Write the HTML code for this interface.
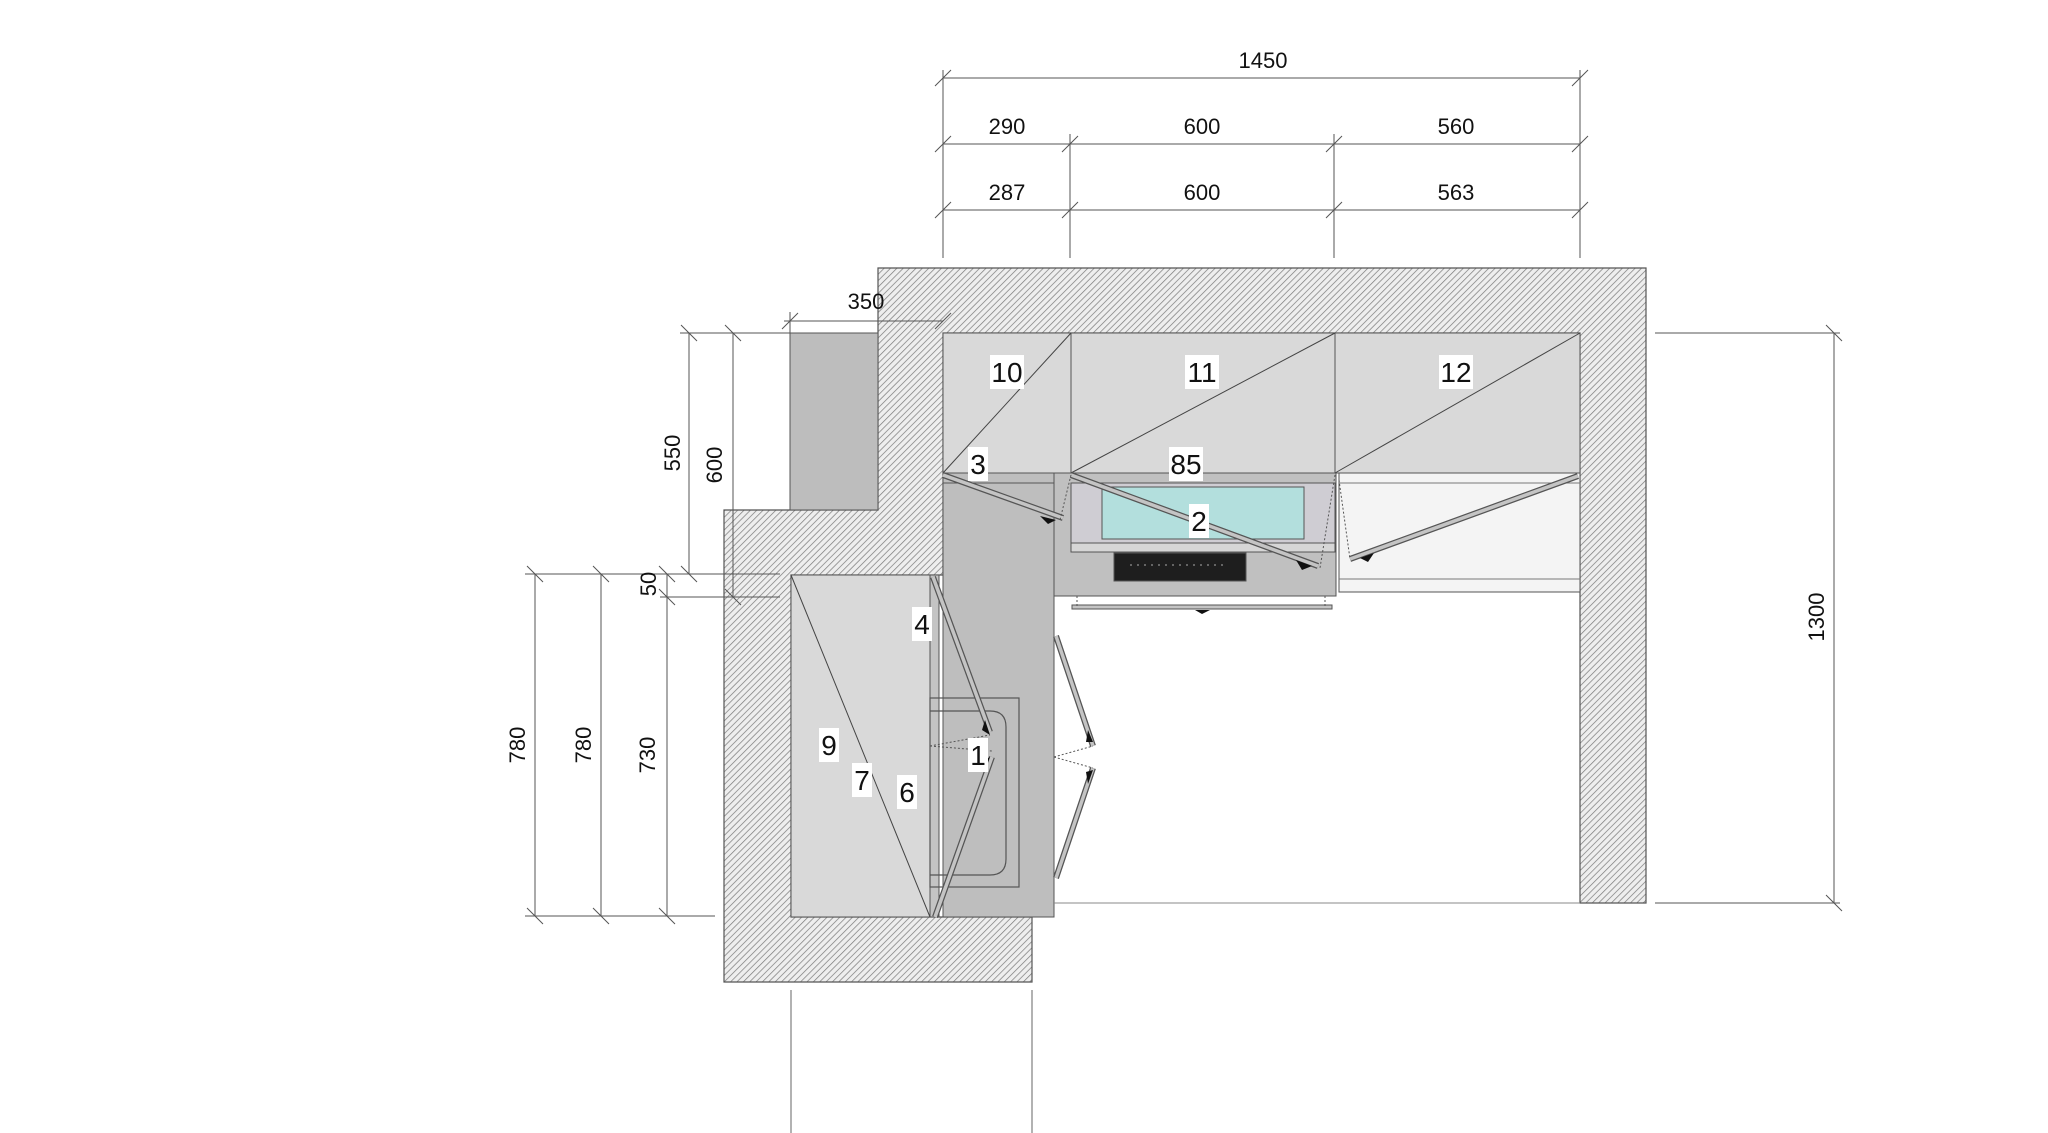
<!DOCTYPE html>
<html><head><meta charset="utf-8"><style>
html,body{margin:0;padding:0;background:#fff;}
svg{display:block;}
text{font-family:"Liberation Sans",sans-serif;font-size:22px;fill:#111;}
.lbl{font-size:28px;}
</style></head><body>
<svg width="2048" height="1133" viewBox="0 0 2048 1133" xmlns="http://www.w3.org/2000/svg">
<defs>
<pattern id="h" width="4.5" height="4.5" patternUnits="userSpaceOnUse" patternTransform="rotate(45)">
<rect width="4.5" height="4.5" fill="#eeeeee"/>
<line x1="0" y1="0" x2="0" y2="4.5" stroke="#7a7a7a" stroke-width="1.4"/>
</pattern>
</defs>

<polygon points="878,268 1646,268 1646,903 1580,903 1580,333 943,333 943,575 791,575 791,917 1032,917 1032,982 724,982 724,510 878,510" fill="url(#h)" stroke="#555" stroke-width="1.2"/>
<rect x="790" y="333" width="88" height="177" fill="#bdbdbd" stroke="#555" stroke-width="1"/>

<rect x="943" y="333" width="637" height="140" fill="#d9d9d9" stroke="#555" stroke-width="1"/>
<line x1="1071" y1="333" x2="1071" y2="473" stroke="#555"/>
<line x1="1335" y1="333" x2="1335" y2="473" stroke="#555"/>
<g stroke="#444" stroke-width="1">
<line x1="943" y1="473" x2="1071" y2="333"/>
<line x1="1071" y1="473" x2="1335" y2="333"/>
<line x1="1335" y1="473" x2="1580" y2="333"/>
</g>

<rect x="943" y="473" width="111" height="444" fill="#bebebe" stroke="#555" stroke-width="1"/>
<rect x="943" y="473" width="111" height="10" fill="#bebebe" stroke="#555" stroke-width="1"/>
<rect x="791" y="575" width="139" height="342" fill="#d9d9d9" stroke="#555" stroke-width="1"/>
<rect x="930" y="575" width="9" height="342" fill="#c4c4c4" stroke="#555" stroke-width="1"/>
<line x1="791" y1="575" x2="930" y2="917" stroke="#444"/>
<rect x="930" y="698" width="89" height="189" fill="none" stroke="#555" stroke-width="1.2"/>
<path d="M930,711 L990,711 Q1006,711 1006,727 L1006,859 Q1006,875 990,875 L930,875" fill="none" stroke="#555" stroke-width="1.2"/>

<rect x="1054" y="473" width="282" height="123" fill="#c0c0c0" stroke="#555" stroke-width="1"/>
<rect x="1071" y="483" width="264" height="60" fill="#cfcdd3" stroke="#555" stroke-width="1"/>
<rect x="1071" y="543" width="264" height="9" fill="#d6d6d6" stroke="#555" stroke-width="1"/>
<rect x="1102" y="487" width="202" height="52" fill="#b3dfdd" stroke="#555" stroke-width="1"/>
<rect x="1114" y="553" width="132" height="28" fill="#1e1e1e" stroke="#555" stroke-width="1"/>
<line x1="1130" y1="565" x2="1226" y2="565" stroke="#aaa" stroke-width="1" stroke-dasharray="2,5"/>
<rect x="1072" y="605" width="260" height="4" fill="#c4c4c4" stroke="#555" stroke-width="1"/>
<polygon points="1195,610 1210,610 1202,614" fill="#111"/>

<rect x="1339" y="473" width="241" height="119" fill="#f4f4f4" stroke="#555" stroke-width="1"/>
<line x1="1339" y1="483" x2="1580" y2="483" stroke="#777"/>
<line x1="1339" y1="579" x2="1580" y2="579" stroke="#777"/>

<g stroke="#555" stroke-width="6">
<line x1="943" y1="475" x2="1063" y2="518"/>
<line x1="1071" y1="475" x2="1318" y2="566"/>
<line x1="1578" y1="476" x2="1350" y2="559"/>
<line x1="933" y1="577" x2="990" y2="732"/>
<line x1="935" y1="917" x2="992" y2="757"/>
<line x1="1056" y1="636" x2="1093" y2="746"/>
<line x1="1056" y1="878" x2="1093" y2="768"/>
</g>
<g stroke="#c4c4c4" stroke-width="3.5">
<line x1="943" y1="475" x2="1063" y2="518"/>
<line x1="1071" y1="475" x2="1318" y2="566"/>
<line x1="1578" y1="476" x2="1350" y2="559"/>
<line x1="933" y1="577" x2="990" y2="732"/>
<line x1="935" y1="917" x2="992" y2="757"/>
<line x1="1056" y1="636" x2="1093" y2="746"/>
<line x1="1056" y1="878" x2="1093" y2="768"/>
</g>
<g fill="#111">
<polygon points="1040,516 1056,520 1048,524"/>
<polygon points="1296,560 1312,566 1302,570"/>
<polygon points="1360,558 1374,553 1368,562"/>
<polygon points="985,720 990,735 982,730"/>
<polygon points="985,770 990,757 982,762"/>
<polygon points="1088,730 1093,742 1086,742"/>
<polygon points="1088,784 1093,770 1086,772"/>
</g>
<g stroke="#555" stroke-width="1" stroke-dasharray="2,2" fill="none">
<polyline points="930,746 990,735"/><polyline points="930,746 992,751"/>
<polyline points="1054,757 1093,746"/><polyline points="1054,757 1093,768"/>
<polyline points="1071,475 1060,520"/><polyline points="1335,475 1320,568"/>
<polyline points="1339,480 1350,559"/>
<polyline points="1077,596 1077,606"/><polyline points="1325,596 1325,606"/>
</g>

<line x1="1054" y1="903" x2="1580" y2="903" stroke="#888" stroke-width="1"/>
<line x1="791" y1="990" x2="791" y2="1133" stroke="#666"/>
<line x1="1032" y1="990" x2="1032" y2="1133" stroke="#666"/>

<g stroke="#555" stroke-width="1" fill="none">
<line x1="943" y1="78" x2="1580" y2="78"/>
<line x1="943" y1="144" x2="1580" y2="144"/>
<line x1="943" y1="210" x2="1580" y2="210"/>
<line x1="943" y1="70" x2="943" y2="258"/>
<line x1="1070" y1="134" x2="1070" y2="258"/>
<line x1="1334" y1="134" x2="1334" y2="258"/>
<line x1="1580" y1="70" x2="1580" y2="258"/>
<path d="M935,86l16,-16M1572,86l16,-16M935,152l16,-16M1062,152l16,-16M1326,152l16,-16M1572,152l16,-16M935,218l16,-16M1062,218l16,-16M1326,218l16,-16M1572,218l16,-16"/>
<line x1="784" y1="321" x2="943" y2="321"/>
<line x1="790" y1="312" x2="790" y2="333"/>
<path d="M782,329l16,-16M935,329l16,-16"/>
<line x1="535" y1="574" x2="535" y2="916"/>
<line x1="601" y1="574" x2="601" y2="916"/>
<line x1="667" y1="574" x2="667" y2="916"/>
<line x1="689" y1="333" x2="689" y2="574"/>
<line x1="733" y1="333" x2="733" y2="597"/>
<line x1="680" y1="333" x2="790" y2="333"/>
<line x1="525" y1="574" x2="780" y2="574"/>
<line x1="660" y1="597" x2="780" y2="597"/>
<line x1="525" y1="916" x2="715" y2="916"/>
<path d="M527,566l16,16M593,566l16,16M659,566l16,16M681,566l16,16M681,325l16,16M725,325l16,16M659,589l16,16M725,589l16,16M527,908l16,16M593,908l16,16M659,908l16,16"/>
<line x1="1834" y1="333" x2="1834" y2="903"/>
<line x1="1655" y1="333" x2="1840" y2="333"/>
<line x1="1655" y1="903" x2="1840" y2="903"/>
<path d="M1826,325l16,16M1826,895l16,16"/>
</g>
<g text-anchor="middle">
<text x="1263" y="68">1450</text>
<text x="1007" y="134">290</text>
<text x="1202" y="134">600</text>
<text x="1456" y="134">560</text>
<text x="1007" y="200">287</text>
<text x="1202" y="200">600</text>
<text x="1456" y="200">563</text>
<text x="866" y="309">350</text>
<text transform="translate(680,453) rotate(-90)">550</text>
<text transform="translate(722,465) rotate(-90)">600</text>
<text transform="translate(656,584) rotate(-90)">50</text>
<text transform="translate(525,745) rotate(-90)">780</text>
<text transform="translate(591,745) rotate(-90)">780</text>
<text transform="translate(655,755) rotate(-90)">730</text>
<text transform="translate(1824,617) rotate(-90)">1300</text>
</g>
<g text-anchor="middle" class="lbl">
<rect x="990" y="355" width="34" height="34" fill="#fff"/><text class="lbl" x="1007" y="382">10</text>
<rect x="1185" y="355" width="34" height="34" fill="#fff"/><text class="lbl" x="1202" y="382">11</text>
<rect x="1439" y="355" width="34" height="34" fill="#fff"/><text class="lbl" x="1456" y="382">12</text>
<rect x="1169" y="447" width="34" height="34" fill="#fff"/><text class="lbl" x="1186" y="474">85</text>
<rect x="1189" y="504" width="20" height="34" fill="#fff"/><text class="lbl" x="1199" y="531">2</text>
<rect x="968" y="447" width="20" height="34" fill="#fff"/><text class="lbl" x="978" y="474">3</text>
<rect x="912" y="607" width="20" height="34" fill="#fff"/><text class="lbl" x="922" y="634">4</text>
<rect x="819" y="728" width="20" height="34" fill="#fff"/><text class="lbl" x="829" y="755">9</text>
<rect x="852" y="763" width="20" height="34" fill="#fff"/><text class="lbl" x="862" y="790">7</text>
<rect x="897" y="775" width="20" height="34" fill="#fff"/><text class="lbl" x="907" y="802">6</text>
<rect x="968" y="738" width="20" height="34" fill="#fff"/><text class="lbl" x="978" y="765">1</text>
</g>
</svg>
</body></html>
